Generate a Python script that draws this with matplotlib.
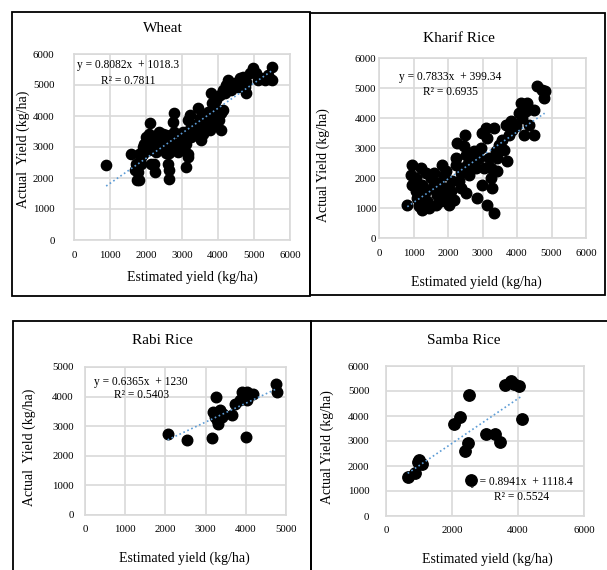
import matplotlib
matplotlib.use("Agg")
import matplotlib.pyplot as plt
from matplotlib.patches import Rectangle

plt.rcParams["font.family"] = ["Liberation Serif", "DejaVu Serif"]

W, H = 607, 570

# ---- data ----
wheat_x = [893, 1581, 1702, 1739, 1814, 1767, 1860, 1907, 1953, 2000, 2046, 2111, 2139, 2232, 2279,
           2251, 2232, 2139, 2372, 2418, 2511, 2558, 2604, 2651, 2651, 2697, 2744, 2790, 2837, 2883,
           2976, 3069, 3116, 3162, 3162, 3116, 3162, 3209, 3302, 3348, 3441, 3488, 3534, 3534, 3581,
           3627, 3674, 3720, 3767, 3813, 3832, 3887, 3953, 4000, 4092, 4092, 4046, 4139, 4232, 4278,
           4371, 4464, 4557, 4604, 4697, 4790, 4790, 4976, 5069, 5208, 5301, 5441, 5506, 5487, 1907,
           2000, 2093, 2186, 2325, 2465, 2558, 2632, 2093, 1814, 1860, 2465, 2976, 3023, 3209, 3255,
           3395, 3441, 3581, 3720, 3813, 3906, 4018, 4139, 3953, 4185, 4325, 4650, 4743, 4883, 5115,
           5394, 2790, 2697, 3069, 1720]
wheat_y = [2430, 2786, 2246, 1922, 1944, 2192, 2462, 2786, 3110, 2948, 3218, 3780, 3326, 3110, 2840,
           2192, 2462, 2462, 3488, 3326, 3164, 2819, 2462, 2246, 1976, 3380, 3812, 4082, 3110, 2840,
           3380, 3434, 3110, 2786, 2678, 2354, 3866, 4028, 3704, 3488, 4244, 3920, 3218, 3596, 3434,
           3866, 4028, 3704, 3542, 4730, 4406, 3920, 4244, 4028, 3542, 4082, 4676, 4838, 5000, 5162,
           4838, 5054, 4946, 5216, 5270, 4730, 5108, 5540, 5378, 5216, 5162, 5184, 5594, 5162, 3002,
           3326, 3434, 3218, 3272, 3434, 3380, 2808, 2894, 2786, 2678, 3002, 3110, 3488, 3596, 3326,
           3380, 3704, 3812, 4136, 3812, 3704, 3866, 4190, 4514, 4730, 5054, 5000, 4946, 5378, 5162,
           5324, 3488, 3110, 2948, 2462]

kharif_x = [821, 966, 918, 966, 1063, 1111, 1159, 1256, 1208, 1256, 1352, 1401, 1449, 1304, 1546,
            1594, 1691, 1739, 1787, 1835, 1884, 1932, 2029, 2077, 2125, 2174, 2222, 2318, 2367, 2270,
            2463, 2492, 2512, 2560, 2657, 2753, 2608, 2801, 2850, 2898, 2946, 2995, 3043, 3091, 3140,
            3188, 3140, 3236, 3284, 3333, 3333, 3381, 3429, 3478, 3574, 3671, 3719, 3816, 3864, 3961,
            4057, 4106, 4154, 4202, 4250, 4299, 4492, 4492, 4589, 4733, 4790, 4800, 4347, 3767, 3622,
            1932, 1497, 1063, 1159, 1642, 1980, 2367, 2705, 3236, 3429, 1835, 1352, 2222, 2512, 2995]
kharif_y = [1111, 2444, 2111, 1778, 1556, 1333, 1056, 944, 2333, 1778, 1556, 1222, 1000, 1333, 1667,
            2167, 1444, 1833, 1222, 2444, 2111, 1667, 1111, 1556, 1889, 1278, 2444, 1889, 2167, 3167,
            3056, 3444, 1500, 2444, 2667, 2889, 2111, 2333, 1333, 2667, 3000, 1778, 2333, 3667, 3333,
            2667, 1111, 2000, 1667, 3667, 833, 2889, 2667, 3111, 3278, 3778, 2556, 3889, 3611, 3722,
            4167, 4500, 4000, 3444, 4222, 4500, 4278, 3444, 5056, 4944, 4667, 4889, 3778, 3444, 2944,
            2222, 2000, 2000, 1222, 1111, 1333, 1667, 2444, 2333, 2222, 1556, 2167, 2667, 2778, 3500]

rabi_x = [2056, 2529, 3167, 3192, 3234, 3259, 3317, 3358, 3400, 3441, 3648, 3731, 3856, 3897,
          3980, 4022, 4005, 4187, 4751, 4784, 3275, 4022]
rabi_y = [2753, 2528, 2607, 3483, 3315, 3989, 3090, 3539, 3315, 3427, 3371, 3764, 3876, 4157,
          4045, 3876, 2640, 4101, 4416, 4157, 3202, 4157]

samba_x = [658, 880, 1012, 1083, 982, 2075, 2247, 2399, 2470, 2500, 2571, 3016, 3290, 3441,
           3613, 3785, 3887, 4038, 4119]
samba_y = [1573, 1707, 2240, 2080, 2173, 3680, 3973, 2587, 2907, 4853, 1440, 3280, 3267, 2973,
           5240, 5413, 5280, 5200, 3893]

titles = ["Wheat", "Kharif Rice", "Rabi Rice", "Samba Rice"]
ylabels = ["Actual  Yield (kg/ha)", "Actual Yield (kg/ha)", "Actual  Yield (kg/ha)", "Actual Yield (kg/ha)"]
xlabel = "Estimated yield (kg/ha)"
slopes = [0.8082, 0.7833, 0.6365, 0.8941]
intercepts = [1018.3, 399.34, 1230, 1118.4]
equations = ["y = 0.8082x  + 1018.3", "y = 0.7833x  + 399.34", "y = 0.6365x  + 1230", "y = 0.8941x  + 1118.4"]
r2_labels = ["R² = 0.7811", "R² = 0.6935", "R² = 0.5403", "R² = 0.5524"]
x_ticks = [range(0, 6001, 1000), range(0, 6001, 1000), range(0, 5001, 1000), range(0, 6001, 2000)]
y_ticks = [range(0, 6001, 1000), range(0, 6001, 1000), range(0, 5001, 1000), range(0, 6001, 1000)]

xs = [wheat_x, kharif_x, rabi_x, samba_x]
ys = [wheat_y, kharif_y, rabi_y, samba_y]

# ---- layout in pixels ----
axes_px = [(74, 54, 290, 240), (379, 58, 586, 238), (85, 367, 286, 515), (386, 366, 584, 516)]
title_px = [(163, 29), (459, 38), (162, 341), (464, 341)]
xlabel_px = [(192, 277), (476, 282), (184, 558), (487, 559)]
ylabel_px = [(23, 149), (323, 165), (29, 447), (327, 447)]
eq_pos = [(0.252, 0.941, 0.855), (0.343, 0.893, 0.813), (0.279, 0.90, 0.81), (0.687, 0.225, 0.129)]
ypad = [14, 2, 8, 12]
xpad = [8, 8, 7.5, 7.5]
msize = [7.4, 7.6, 7.6, 8.2]
boxes = [(12, 12, 310, 296), (310, 13, 605, 295), (13, 321, 311, 575), (311, 321, 612, 575)]

fig = plt.figure(figsize=(W / 100, H / 100), dpi=100)


def fx(x):
    return x / W


def fy(y):
    return 1 - y / H


for (x0, y0, x1, y1) in boxes:
    fig.patches.append(Rectangle((fx(x0), fy(y1)), fx(x1) - fx(x0), fy(y0) - fy(y1),
                                 transform=fig.transFigure, fill=False, edgecolor="black",
                                 linewidth=1.3))

grid_c = "#d9d9d9"
for i in range(4):
    x0, y0, x1, y1 = axes_px[i]
    ax = fig.add_axes([fx(x0), fy(y1), fx(x1) - fx(x0), fy(y0) - fy(y1)])
    ax.set_xlim(x_ticks[i][0], x_ticks[i][-1])
    ax.set_ylim(y_ticks[i][0], y_ticks[i][-1])
    ax.set_xticks(list(x_ticks[i]))
    ax.set_yticks(list(y_ticks[i]))
    ax.grid(True, color=grid_c, linewidth=1.2)
    ax.set_axisbelow(True)
    for s in ax.spines.values():
        s.set_color(grid_c)
        s.set_linewidth(1.2)
    ax.tick_params(axis="both", length=0, labelsize=7.8, colors="black")
    ax.tick_params(axis="y", pad=ypad[i])
    ax.tick_params(axis="x", pad=xpad[i])

    ax.plot(xs[i], ys[i], "o", color="black", markersize=msize[i], linestyle="none",
            clip_on=False, zorder=3)
    tx = [min(xs[i]), max(xs[i])]
    ty = [slopes[i] * v + intercepts[i] for v in tx]
    ax.plot(tx, ty, color="#5b9bd5", linewidth=1.2, linestyle=(0, (1, 1.6)), zorder=4)

    ex, ey1, ey2 = eq_pos[i]
    ax.text(ex, ey1, equations[i], transform=ax.transAxes, ha="center", va="center",
            fontsize=8.3, zorder=5)
    ax.text(ex, ey2, r2_labels[i], transform=ax.transAxes, ha="center", va="center",
            fontsize=8.3, zorder=5)

    fig.text(fx(title_px[i][0]), fy(title_px[i][1]), titles[i], ha="center", va="center",
             fontsize=11)
    fig.text(fx(xlabel_px[i][0]), fy(xlabel_px[i][1]), xlabel, ha="center", va="center",
             fontsize=10)
    fig.text(fx(ylabel_px[i][0]), fy(ylabel_px[i][1]), ylabels[i], ha="center", va="center",
             rotation=90, fontsize=10)

fig.savefig("out.png", dpi=100)
